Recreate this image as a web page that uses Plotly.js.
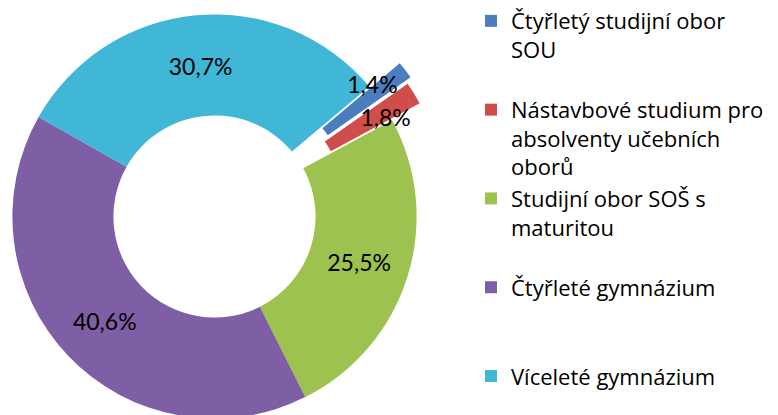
<!DOCTYPE html>
<html>
<head>
<meta charset="utf-8">
<script src="https://cdn.plot.ly/plotly-3.0.1.min.js"></script>
<style>
  html, body { margin: 0; padding: 0; width: 778px; height: 415px; overflow: hidden; background: #fff; }
  #chart { position: absolute; left: -26px; top: -24px; width: 804px; height: 481px; }
</style>
</head>
<body>
<div id="chart"></div>
<script>
// ---- data ----
const categories = [
  "Čtyřletý studijní obor SOU",
  "Nástavbové studium pro absolventy učebních oborů",
  "Studijní obor SOŠ s maturitou",
  "Čtyřleté gymnázium",
  "Víceleté gymnázium"
];
const shares = [1.4, 1.8, 25.5, 40.6, 30.7];
const legendLines = [
  ["Čtyřletý studijní obor", "SOU", " "],
  ["Nástavbové studium pro", "absolventy učebních", "oborů"],
  ["Studijní obor SOŠ s", "maturitou", " "],
  ["Čtyřleté gymnázium", " ", " "],
  ["Víceleté gymnázium"]
];
const sliceColors = ["#4A7EBF", "#CF4E4B", "#9EC24F", "#7E5EA4", "#40B7D7"];

// ---- chart ----
const displayLabels = legendLines.map(l => l.join("<br>"));
const labelFor = idx => shares.map((v, i) => i === idx ? "%{value:.1f}%" : "");
const bigOnly = shares.map((v, i) => i >= 2 ? "%{value:.1f}%" : "");

const labelFont = "Lato, 'Open Sans', 'Noto Sans', sans-serif";
const legendFont = "'Open Sans', 'Noto Sans', sans-serif";
const W = 804, H = 481;

const base = {
  type: "pie",
  labels: displayLabels,
  values: shares,
  sort: false,
  direction: "clockwise",
  hole: 0.5,
  textposition: "inside",
  insidetextorientation: "horizontal",
  textfont: { family: labelFont, size: 23, color: "#000" }
};

const donut = Object.assign({}, base, {
  rotation: 50,
  pull: [0.19, 0.16, 0, 0, 0],
  marker: { colors: sliceColors, line: { width: 0 } },
  texttemplate: bigOnly,
  domain: { x: [0, H / W], y: [0, 1] },
  hoverinfo: "label+percent"
});

// transparent rings that only carry the labels of the two thin slices
function labelRing(idx, rot, R) {
  const c = H / 2;
  return Object.assign({}, base, {
    rotation: rot,
    marker: { colors: shares.map(() => "rgba(0,0,0,0)"), line: { width: 0 } },
    texttemplate: labelFor(idx),
    domain: { x: [(c - R) / W, (c + R) / W], y: [(c - R) / H, (c + R) / H] },
    showlegend: false,
    hoverinfo: "skip"
  });
}

const layout = {
  width: W,
  height: H,
  margin: { l: 0, r: 0, t: 0, b: 0 },
  paper_bgcolor: "#fff",
  separators: ", ",
  showlegend: true,
  uniformtext: { mode: "show", minsize: 23 },
  legend: {
    x: 497 / W, xanchor: "left",
    y: 0.95, yanchor: "top",
    valign: "top",
    traceorder: "normal",
    font: { family: legendFont, size: 22, color: "#000" },
    bgcolor: "rgba(0,0,0,0)"
  }
};

Plotly.newPlot("chart", [donut, labelRing(0, 47.4, 215.5), labelRing(1, 51.6, 209)], layout,
  { displayModeBar: false, staticPlot: true });
</script>
</body>
</html>
